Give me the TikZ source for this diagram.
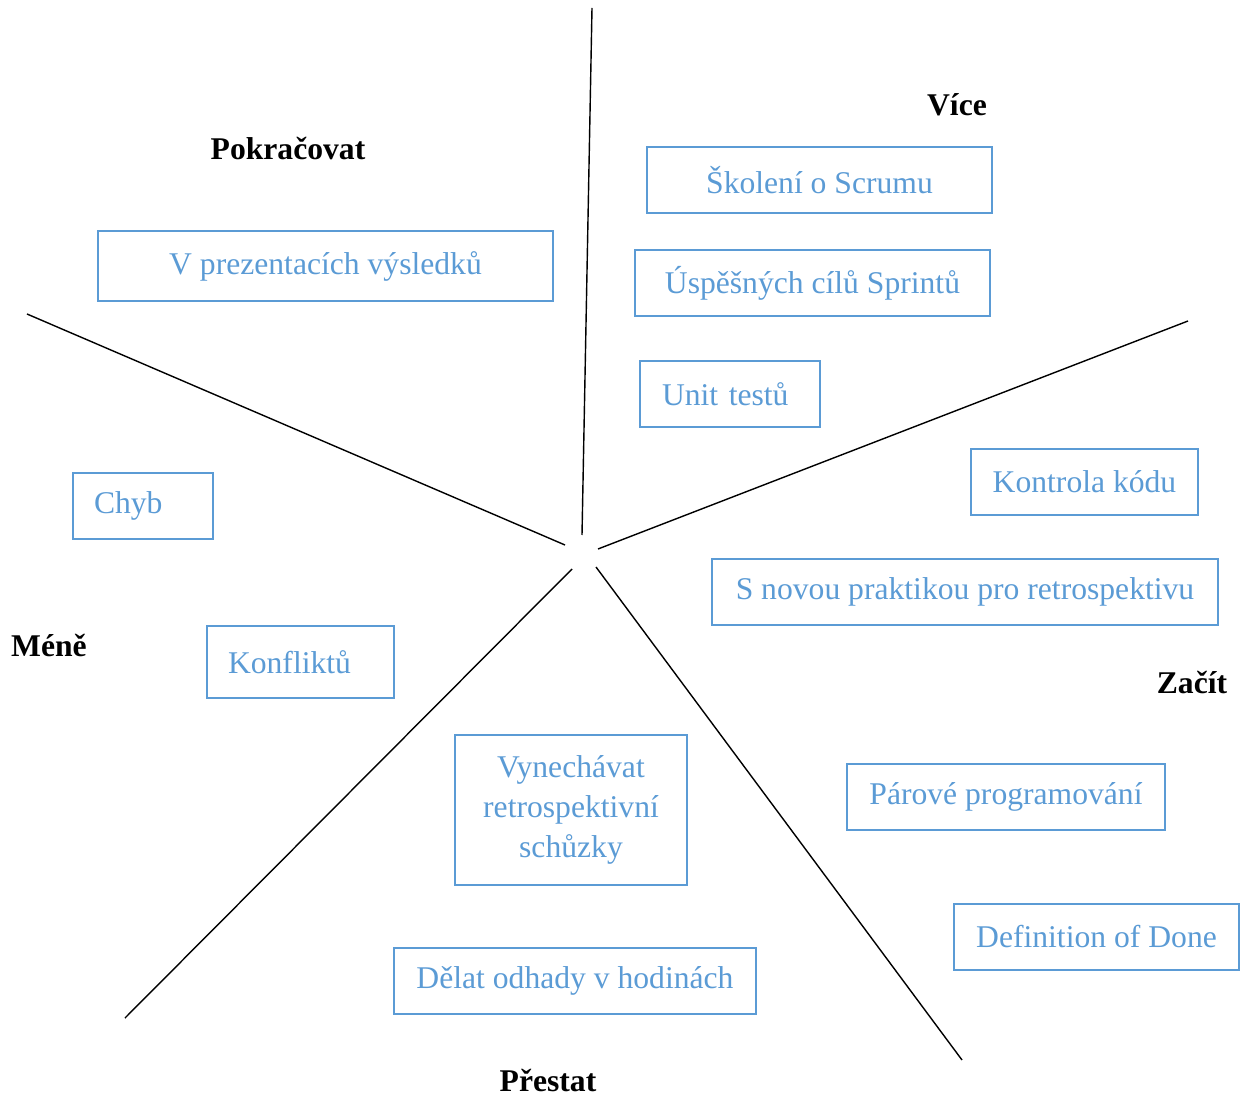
\documentclass[tikz,border=0pt]{standalone}
\usepackage{fontspec}
\setmainfont{Liberation Serif}
\usepackage{tikz}
\usetikzlibrary{positioning}
\definecolor{boxblue}{HTML}{5B9BD5}
\tikzstyle{idea} = [
    rectangle,
    draw=boxblue,
    line width=1.4pt,
    inner sep=0pt,
    minimum height=1.32cm,
    text=boxblue,
    align=center,
    font=\fontsize{18}{23}\selectfont
]
\tikzstyle{leftidea} = [
    idea,
    align=left
]
\tikzstyle{sector} = [
    font=\fontsize{18}{22}\selectfont\bfseries
]
\tikzstyle{divider} = [
    black,
    line width=0.8pt
]

\begin{document}
\begin{tikzpicture}[x=0.02cm, y=-0.02cm]
        \useasboundingbox (0,0) rectangle (1247,1097);

        % Dividers
        \coordinate (topA) at (592,8);
        \coordinate (topB) at (582,535);
        \coordinate (leftA) at (27,314);
        \coordinate (leftB) at (565,545);
        \coordinate (rightA) at (1188,321);
        \coordinate (rightB) at (598,549);
        \coordinate (lowA) at (572,569);
        \coordinate (lowB) at (125,1018);
        \coordinate (lowrA) at (596,567);
        \coordinate (lowrB) at (962,1060);
        \draw[divider] (topA) -- (topB);
        \draw[divider] (leftA) -- (leftB);
        \draw[divider] (rightA) -- (rightB);
        \draw[divider] (lowA) -- (lowB);
        \draw[divider] (lowrA) -- (lowrB);

        % Sectors
        \node[sector] (vice) at (957,105) {Více};
        \node[sector] (pokr) at (288,149) {Pokračovat};
        \node[sector] (mene) at (49,645) {Méně};
        \node[sector] (zacit) at (1192,683) {Začít};
        \node[sector] (prestat) at (548,1080) {Přestat};

        % Více
        \node[idea, minimum width=6.9cm] (skoleni) at (819.5,180) {Školení o Scrumu};
        \node[idea, minimum width=7.1cm] (cile) at (812.5,283) {Úspěšných cílů Sprintů};
        \node[leftidea, minimum width=3.6cm, text width=2.72cm] (unit) at (730,394) {Unit testů};

        % Pokračovat
        \node[idea, minimum width=9.1cm, minimum height=1.4cm] (prez) at (325.5,266) {V prezentacích výsledků};

        % Začít
        \node[idea, minimum width=4.54cm] (kontrola) at (1084.5,482) {Kontrola kódu};
        \node[idea, minimum width=10.12cm] (praktika) at (965,592) {S novou praktikou pro retrospektivu};
        \node[idea, minimum width=6.36cm] (parove) at (1006,797) {Párové programování};
        \node[idea, minimum width=5.7cm] (dod) at (1096.5,937) {Definition of Done};

        % Méně
        \node[leftidea, minimum width=2.8cm, text width=1.96cm] (chyb) at (143,506) {Chyb};
        \node[leftidea, minimum width=3.74cm, minimum height=1.44cm, text width=2.9cm] (konflikt) at (300.5,662) {Konfliktů};

        % Přestat
        \node[idea, minimum width=4.64cm, minimum height=3cm] (vynech) at (571,810) {Vynechávat\\retrospektivní\\schůzky};
        \node[idea, minimum width=7.24cm] (odhady) at (575,981) {Dělat odhady v hodinách};
    \end{tikzpicture}
\end{document}
